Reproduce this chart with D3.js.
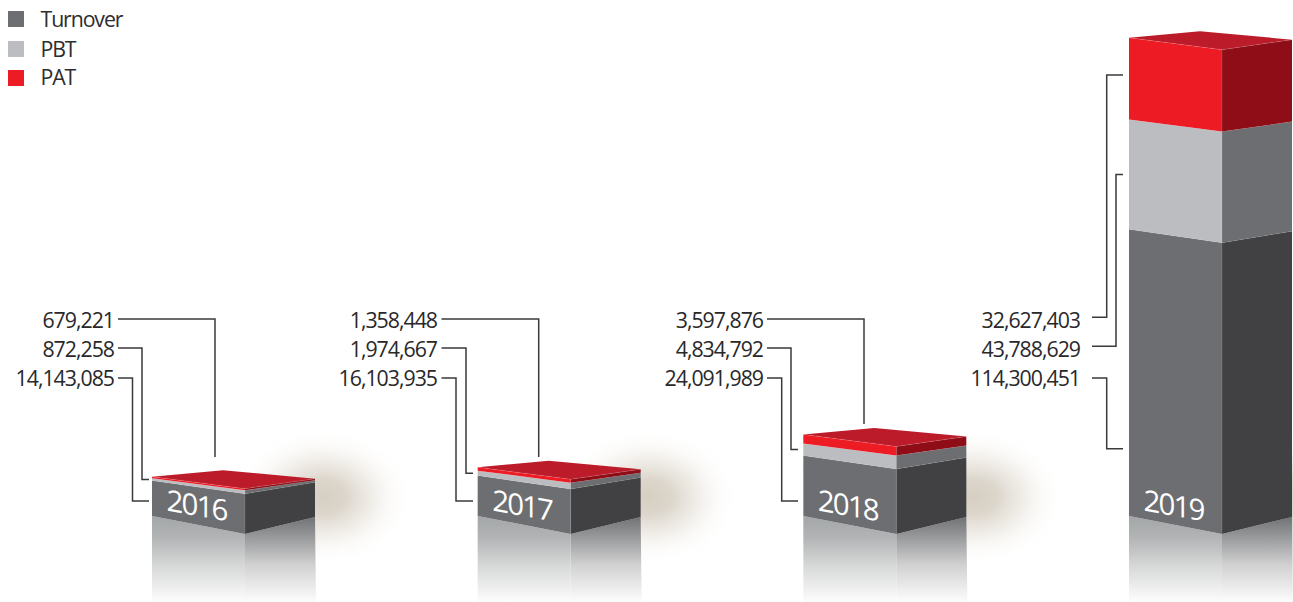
<!DOCTYPE html>
<html>
<head>
<meta charset="utf-8">
<script src="https://cdn.jsdelivr.net/npm/d3@7/dist/d3.min.js"></script>
<style>
  html, body { margin: 0; padding: 0; background: #fff; overflow: hidden; }
  svg { display: block; }
  text { font-family: "Open Sans", "Noto Sans", sans-serif; }
</style>
</head>
<body>
<svg id="chart" width="1293" height="602"></svg>
<script>
// Yearly figures, stacked bottom to top
const years = ["2016", "2017", "2018", "2019"];
const seriesNames = ["Turnover", "PBT", "PAT"];
const turnover = [14143085, 16103935, 24091989, 114300451];
const pbt = [872258, 1974667, 4834792, 43788629];
const pat = [679221, 1358448, 3597876, 32627403];

const rows = years.map((year, i) => ({ year, Turnover: turnover[i], PBT: pbt[i], PAT: pat[i] }));
const stacked = d3.stack().keys(seriesNames)(rows);

const svg = d3.select("#chart");
const defs = svg.append("defs");

// Scales: x gives each block's left edge, y gives the height of a stack level
const x = d3.scalePoint().domain(years).range([152, 1129]);
const y = d3.scaleLinear()
  .domain([0, d3.max(stacked[2], d => d[1])])
  .range([516, 37.7]);

const frontWidth = 93, sideWidth = 70;
const faceColors = {
  Turnover: { front: "#6d6e71", side: "#414042" },
  PBT: { front: "#bcbdc0", side: "#6d6e71" },
  PAT: { front: "#ed1c24", side: "#8f0d16" }
};
const legendColors = { Turnover: "#6d6e71", PBT: "#bcbdc0", PAT: "#ed1c24" };
const topColor = "#bc1b2a";
const seamColor = "rgba(255,255,255,0.2)";

// Perspective of a horizontal edge at each kind of level
const baseSlope = { drop: 18, rise: 17 };
const turnoverSlope = { drop: 13.3, rise: 11.5 };
const upperSlope = { drop: 12, rise: 10 };

const pointsAttr = pts => pts.map(p => p.join(",")).join(" ");

// Soft ground glow and floor reflections
const glow = defs.append("radialGradient").attr("id", "glow");
[[0, "#d6cfc2", 1], [0.25, "#d9d2c7", 0.92], [0.5, "#e6e1d9", 0.68], [0.75, "#f5f3ef", 0.36], [1, "#ffffff", 0]]
  .forEach(([o, c, a]) => glow.append("stop").attr("offset", o).attr("stop-color", c).attr("stop-opacity", a));

function fadeGradient(id, stops) {
  const g = defs.append("linearGradient").attr("id", id)
    .attr("gradientUnits", "userSpaceOnUse")
    .attr("x1", 0).attr("x2", 0).attr("y1", 516).attr("y2", 604);
  stops.forEach(([o, c]) => g.append("stop").attr("offset", o).attr("stop-color", c));
}
fadeGradient("reflectFront", [[0, "#a3a6a7"], [0.25, "#b2b4b5"], [0.55, "#d5d6d6"], [1, "#ffffff"]]);
fadeGradient("reflectSide", [[0, "#6e7071"], [0.25, "#9a9b9c"], [0.55, "#d0d0d1"], [1, "#ffffff"]]);

const glowLayer = svg.append("g");
const reflectLayer = svg.append("g");
const barLayer = svg.append("g");
const leaderLayer = svg.append("g");
const labelLayer = svg.append("g");

glowLayer.selectAll("ellipse").data(years).join("ellipse")
  .attr("cx", d => x(d) + frontWidth + sideWidth + 8)
  .attr("cy", 497)
  .attr("rx", 92).attr("ry", 70)
  .attr("fill", "url(#glow)");

// Reflections below the base of each block
years.forEach(year => {
  const l = x(year), m = l + frontWidth, r = m + sideWidth;
  const base = y(0);
  reflectLayer.append("polygon")
    .attr("points", pointsAttr([[l, base], [m, base + baseSlope.drop], [m, 602], [l, 602]]))
    .attr("fill", "url(#reflectFront)");
  reflectLayer.append("polygon")
    .attr("points", pointsAttr([[m, base + baseSlope.drop], [r, base + baseSlope.drop - baseSlope.rise], [r + 1, 602], [m, 602]]))
    .attr("fill", "url(#reflectSide)");
});

// Block faces, one layer per series
stacked.forEach(layer => {
  const name = layer.key;
  const upper = name === "Turnover" ? turnoverSlope : upperSlope;
  const lower = name === "Turnover" ? baseSlope : name === "PBT" ? turnoverSlope : upperSlope;
  layer.forEach((d, i) => {
    const year = years[i];
    const l = x(year), m = l + frontWidth, r = m + sideWidth;
    const y0 = y(d[0]), y1 = y(d[1]);
    const g = barLayer.append("g");
    g.append("polygon")
      .attr("points", pointsAttr([[l, y0], [m, y0 + lower.drop], [m, y1 + upper.drop], [l, y1]]))
      .attr("fill", faceColors[name].front);
    g.append("polygon")
      .attr("points", pointsAttr([[m, y0 + lower.drop], [r, y0 + lower.drop - lower.rise], [r, y1 + upper.drop - upper.rise], [m, y1 + upper.drop]]))
      .attr("fill", faceColors[name].side);
    g.append("polyline")
      .attr("points", pointsAttr([[l, y1], [m, y1 + upper.drop], [r, y1 + upper.drop - upper.rise]]))
      .attr("fill", "none").attr("stroke", seamColor).attr("stroke-width", 0.6);
    g.append("line")
      .attr("x1", m).attr("x2", m)
      .attr("y1", y1 + upper.drop).attr("y2", y0 + lower.drop)
      .attr("stroke", seamColor).attr("stroke-width", 0.6);
    if (name === "PAT") {
      g.insert("polygon", ":first-child")
        .attr("points", pointsAttr([[l, y1], [l + 71, y1 - 6.5], [r, y1 + upper.drop - upper.rise], [m, y1 + upper.drop]]))
        .attr("fill", topColor);
    }
  });
});

// Year captions are sheared so they lie on the front face
const captionShear = Math.tan(10 * Math.PI / 180);
labelLayer.selectAll("text.year").data(years).join("text")
  .attr("class", "year")
  .attr("transform", d => `translate(${x(d) + 14.5},510.5) matrix(1,${captionShear},0,1,0,0)`)
  .attr("font-size", 29.5)
  .attr("letter-spacing", -1.9)
  .attr("fill", "#fff")
  .text(d => d);

// Leader routes from the value labels to the block faces
const labelRight = [114, 437, 763, 1080];
const lineStart = [118, 441.5, 767, 1092];
const valueBaselines = { PAT: 327.5, PBT: 356.8, Turnover: 385.8 };
const lineRows = { PAT: 319, PBT: 348, Turnover: 378 };
const routes = [
  { PAT: { x: 215, end: [215, 457] }, PBT: { x: 142, endX: 149 }, Turnover: { x: 132.5, end: [149, 501] } },
  { PAT: { x: 538.7, end: [538.7, 457] }, PBT: { x: 466, endX: 473 }, Turnover: { x: 456, end: [473, 501] } },
  { PAT: { x: 864, end: [864, 424] }, PBT: { x: 791, endX: 798 }, Turnover: { x: 781.7, end: [798, 501] } },
  { PAT: { x: 1106.7, end: [1123, 75] }, PBT: { x: 1116, endX: 1123 }, Turnover: { x: 1106.7, end: [1123, 448.7] } }
];
const line = d3.line();

seriesNames.forEach((name, s) => {
  const values = [turnover, pbt, pat][s];
  years.forEach((year, i) => {
    labelLayer.append("text")
      .attr("x", labelRight[i])
      .attr("y", valueBaselines[name])
      .attr("text-anchor", "end")
      .attr("font-size", 21.3)
      .attr("letter-spacing", -1)
      .attr("fill", "#29282a")
      .text(d3.format(",")(values[i]));

    const route = routes[i][name];
    const rowY = lineRows[name] - (i === 3 && name !== "Turnover" ? 1.7 : 0);
    const level = stacked[s][i];
    const end = route.end || [route.endX, (y(level[0]) + y(level[1])) / 2];
    const path = route.end && route.end[0] === route.x
      ? [[lineStart[i], rowY], [route.x, rowY], end]
      : [[lineStart[i], rowY], [route.x, rowY], [route.x, end[1]], end];
    leaderLayer.append("path")
      .attr("d", line(path))
      .attr("fill", "none")
      .attr("stroke", "#3a3a3d")
      .attr("stroke-width", 1.5);
  });
});

// Legend
const legendRows = [[11, 26.8], [41, 56.8], [70, 85.3]];
seriesNames.forEach((name, i) => {
  svg.append("rect")
    .attr("x", 8).attr("y", legendRows[i][0])
    .attr("width", 16).attr("height", 16)
    .attr("fill", legendColors[name]);
  svg.append("text")
    .attr("x", 40.5).attr("y", legendRows[i][1])
    .attr("font-size", 21.3)
    .attr("letter-spacing", -1.1)
    .attr("fill", "#2e2d2f")
    .text(name);
});
</script>
</body>
</html>
